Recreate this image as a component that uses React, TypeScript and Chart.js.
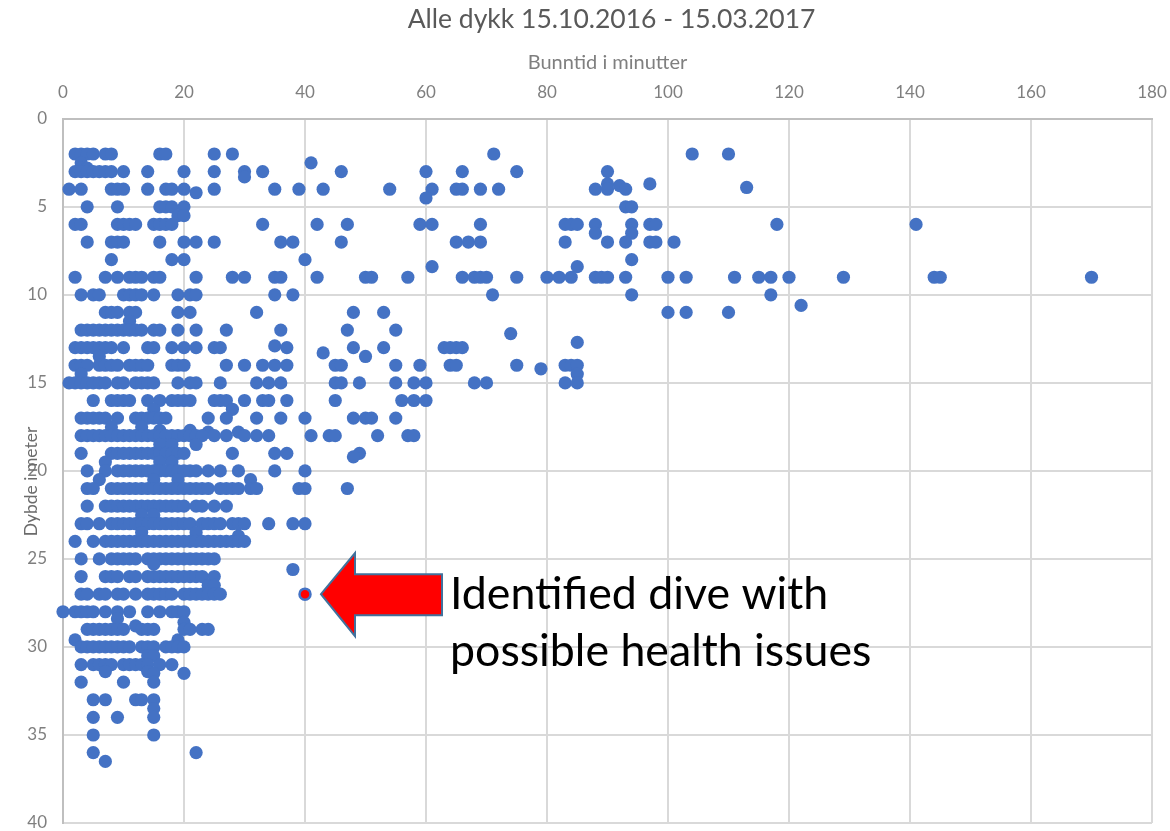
import React, { useEffect, useRef } from "react";
import { Chart, registerables } from "chart.js";

Chart.register(...registerables);

const titleText = "Alle dykk 15.10.2016 - 15.03.2017";
const xTitle = "Bunntid i minutter";
const yTitle = "Dybde i meter";
const annotationLines = ["Identified dive with", "possible health issues"];
const flagged = [{ x: 40, y: 27 }];

// Each list is [depth, bottom times at that depth...]
const r0: number[][] = [
  [2, 2, 3, 4, 5, 7, 8, 16, 17, 25, 28, 71.2, 104, 110],
  [2.5, 3, 41],
  [2.8, 3, 4],
  [3, 2, 3, 4, 5, 6, 7, 8, 10, 14, 20, 25, 30, 33, 46, 60, 66, 75, 90],
  [3.3, 30],
  [3.7, 90, 97],
  [3.8, 92],
  [3.9, 113],
  [4, 1, 3, 8, 9, 10, 14, 17, 18, 20, 35, 39, 25, 43, 54, 61, 65, 66, 69, 72, 88, 90, 93],
  [4.2, 22],
  [4.5, 60],
  [5, 4, 9, 16, 17, 18, 20, 93, 94],
  [5.5, 19, 20],
  [6, 2, 3, 9, 10, 11, 12, 15, 16, 17, 18, 33, 42, 47, 59, 61, 69, 83, 84, 85, 88, 94, 97, 98, 118, 141],
  [6.5, 88, 94],
  [7, 4, 8, 9, 10, 16, 20, 22, 25, 36, 38, 46, 65, 67, 69, 83, 90, 93, 97, 98, 101],
  [8, 8, 18, 20, 40, 94],
  [8.4, 61, 85],
  [9, 2, 7, 9, 11, 12, 13, 15, 16, 22, 28, 30, 35, 36, 42, 50, 51, 57, 66, 68, 69, 70, 75, 80, 82, 84, 88, 89, 90, 93, 100, 103, 111, 115, 117, 120, 129, 144, 145, 170],
  [10, 3, 5, 6, 10, 11, 12, 13, 15, 19, 21, 22, 35, 38, 71, 94, 117],
  [10.6, 122],
  [11, 7, 8, 9, 11, 12, 19, 21, 32, 48, 53, 100, 103, 110],
  [11.5, 11],
  [12, 3, 4, 5, 6, 7, 8, 9, 10, 11, 12, 13, 15, 16, 19, 22, 27, 36, 47, 55],
  [12.2, 74],
  [12.7, 85],
  [12.9, 35],
  [13, 2, 3, 4, 5, 6, 7, 8, 10, 14, 15, 18, 20, 22, 25, 26, 37, 48, 53, 63, 64, 65, 66],
  [13.3, 43],
  [13.5, 6, 50],
];

const r1: number[][] = [
  [14, 2, 3, 4, 6, 7, 8, 9, 11, 12, 13, 14, 18, 19, 20, 27, 30, 33, 35, 37, 45, 46, 55, 59, 64, 65, 75, 83, 84, 85],
  [14.2, 79],
  [14.5, 3, 85],
  [15, 1, 2, 3, 4, 5, 6, 7, 9, 10, 12, 13, 14, 15, 19, 21, 22, 26, 32, 34, 36, 45, 46, 49, 55, 58, 60, 68, 70, 83, 85],
  [16, 5, 8, 9, 10, 11, 14, 16, 18, 19, 20, 21, 25, 26, 27, 30, 33, 34, 37, 45, 56, 58, 60],
  [16.5, 15, 28],
  [17, 3, 4, 5, 6, 7, 9, 12, 13, 14, 15, 16, 17, 24, 27, 32, 36, 40, 48, 50, 51, 55],
  [17.5, 8, 13],
  [17.7, 16, 21],
  [17.8, 29, 24],
  [18, 3, 4, 5, 6, 7, 8, 9, 10, 11, 12, 13, 14, 15, 16, 17, 18, 19, 20, 21, 22, 23, 25, 27, 30, 32, 34, 41, 44, 45, 52, 57, 58],
  [18.5, 16, 18, 22],
  [19, 3, 8, 9, 10, 11, 12, 13, 14, 15, 16, 17, 18, 19, 20, 28, 35, 37, 49],
  [19.2, 48],
  [19.5, 7, 16, 18],
  [20, 4, 7, 9, 10, 11, 12, 13, 14, 15, 16, 17, 18, 19, 20, 21, 22, 24, 26, 29, 35, 40],
  [20.5, 6, 31, 15, 19],
  [21, 4, 5, 8, 9, 10, 11, 12, 13, 14, 15, 16, 17, 18, 19, 20, 21, 22, 23, 24, 26, 27, 28, 29, 31, 32, 39, 40, 47],
  [22, 4, 7, 8, 9, 10, 11, 12, 13, 14, 15, 16, 17, 18, 19, 20, 22, 23, 25, 27],
  [22.5, 13, 15],
  [23, 3, 4, 6, 8, 9, 10, 11, 12, 13, 14, 15, 16, 17, 18, 19, 20, 21, 23, 24, 25, 26, 28, 29, 30, 34, 38, 40],
  [23.5, 13, 22],
  [23.7, 29],
  [24, 2, 5, 7, 8, 9, 10, 11, 12, 13, 14, 15, 16, 17, 18, 19, 20, 21, 22, 23, 24, 25, 26, 27, 28, 29, 30],
];

const r2: number[][] = [
  [25, 3, 6, 8, 9, 10, 11, 12, 14, 15, 16, 17, 18, 19, 20, 21, 22, 23, 24, 25],
  [25.3, 15],
  [25.6, 38],
  [26, 3, 7, 8, 9, 11, 12, 14, 15, 16, 17, 18, 19, 20, 21, 22, 23, 25],
  [26.5, 24, 25],
  [27, 3, 4, 6, 7, 9, 10, 12, 14, 15, 16, 17, 18, 20, 21, 22, 23, 24, 25, 26],
  [28, 0, 2, 3, 4, 5, 7, 9, 11, 14, 16, 18, 19, 20],
  [28.4, 9],
  [28.6, 20],
  [28.8, 12],
  [29, 4, 5, 6, 7, 8, 9, 10, 13, 14, 15, 20, 21, 23, 24],
  [29.6, 2, 19],
  [30, 3, 4, 5, 6, 7, 8, 9, 10, 11, 13, 14, 15, 17, 18, 19, 20],
  [30.5, 14, 15],
  [31, 3, 5, 6, 7, 8, 10, 11, 12, 13, 14, 16, 18],
  [31.4, 7, 14],
  [31.5, 15, 20],
  [32, 3, 10, 15],
  [33, 5, 7, 12, 13, 15],
  [33.5, 15],
  [34, 5, 9, 15],
  [35, 5, 15],
  [36, 5, 22],
  [36.5, 7],
];

const yTicksColor = "#7f7f7f";
const font = "Lato";

function toPoints(rows: number[][]) {
  const out: { x: number; y: number }[] = [];
  for (const [d, ...xs] of rows) for (const x of xs) out.push({ x, y: d });
  return out;
}

const calloutPlugin = {
  id: "callout",
  afterLayout(chart: any) {
    if (chart.titleBlock) {
      chart.titleBlock.left += 4;
      chart.titleBlock.right += 4;
    }
  },
  afterDatasetsDraw(chart: any) {
    const px = chart.scales.x.getPixelForValue(flagged[0].x);
    const py = chart.scales.y.getPixelForValue(flagged[0].y);
    const c = chart.ctx;
    const tip = px + 16;
    c.save();
    c.beginPath();
    c.moveTo(tip, py);
    c.lineTo(tip + 34, py - 41);
    c.lineTo(tip + 34, py - 20);
    c.lineTo(tip + 121, py - 20);
    c.lineTo(tip + 121, py + 21);
    c.lineTo(tip + 34, py + 21);
    c.lineTo(tip + 34, py + 42);
    c.closePath();
    c.fillStyle = "#ff0000";
    c.strokeStyle = "#41719c";
    c.lineWidth = 2;
    c.fill();
    c.stroke();
    c.fillStyle = "#000000";
    c.font = `44.7px ${font}`;
    c.textAlign = "left";
    c.textBaseline = "alphabetic";
    c.fillText(annotationLines[0], px + 145, py + 15);
    c.fillText(annotationLines[1], px + 145, py + 72);
    c.restore();
  },
};

const yTitlePlugin = {
  id: "yTitleText",
  afterDatasetsDraw(chart: any) {
    const c = chart.ctx;
    const centerY = chart.scales.y.getPixelForValue(20.6);
    c.save();
    c.translate(31, centerY);
    c.rotate(-Math.PI / 2);
    c.font = `17.5px ${font}`;
    c.fillStyle = "#6b6b6b";
    c.textAlign = "center";
    c.textBaseline = "middle";
    c.fillText(yTitle, 0, 0);
    c.restore();
  },
};

export default function App() {
  const ref = useRef<HTMLCanvasElement | null>(null);
  useEffect(() => {
    const chart = new Chart(ref.current!, {
      type: "scatter",
      data: {
        datasets: [
          {
            label: "Alle dykk",
            data: [...toPoints(r0), ...toPoints(r1), ...toPoints(r2)],
            backgroundColor: "#4472c4",
            borderColor: "#4472c4",
            pointRadius: 6.6,
            pointBorderWidth: 0,
            clip: false,
          },
          {
            label: "Identified dive",
            data: flagged,
            backgroundColor: "#ff0000",
            borderColor: "#4472c4",
            pointRadius: 5.5,
            pointBorderWidth: 2.5,
            clip: false,
          },
        ],
      },
      plugins: [calloutPlugin, yTitlePlugin],
      options: {
        responsive: false,
        animation: false,
        layout: { padding: { left: 0, right: 18, top: 0, bottom: 6 } },
        plugins: {
          legend: { display: false },
          tooltip: { enabled: false },
          title: {
            display: true,
            text: titleText,
            fullSize: false,
            color: "#595959",
            font: { family: font, size: 26.5, weight: "normal" },
            padding: { top: 4, bottom: 4 },
          },
        },
        scales: {
          x: {
            type: "linear",
            position: "top",
            min: 0,
            max: 180,
            afterFit(s: any) {
              s.height = 79;
              s.paddingLeft = 0;
              s.paddingRight = 0;
            },
            ticks: { stepSize: 20, color: yTicksColor, font: { family: font, size: 17 }, padding: 16, maxRotation: 0 },
            grid: { color: "#d9d9d9", lineWidth: 2, drawTicks: false },
            border: { color: "#bfbfbf", width: 2 },
            title: { display: true, text: xTitle, color: yTicksColor, font: { family: font, size: 20 }, padding: { top: 11, bottom: 0 } },
          },
          y: {
            type: "linear",
            reverse: true,
            min: 0,
            max: 40,
            afterFit(s: any) {
              s.width = 63;
              s.paddingTop = 0;
              s.paddingBottom = 0;
            },
            ticks: { stepSize: 5, color: yTicksColor, font: { family: font, size: 17 }, padding: 16 },
            grid: { color: "#d9d9d9", lineWidth: 2, drawTicks: false },
            border: { color: "#bfbfbf", width: 2 },
          },
        },
      },
    } as any);
    return () => chart.destroy();
  }, []);
  return (
    <canvas
      ref={ref}
      width={1170}
      height={831}
      style={{ position: "fixed", left: 0, top: 0, display: "block", background: "#ffffff" }}
    />
  );
}
